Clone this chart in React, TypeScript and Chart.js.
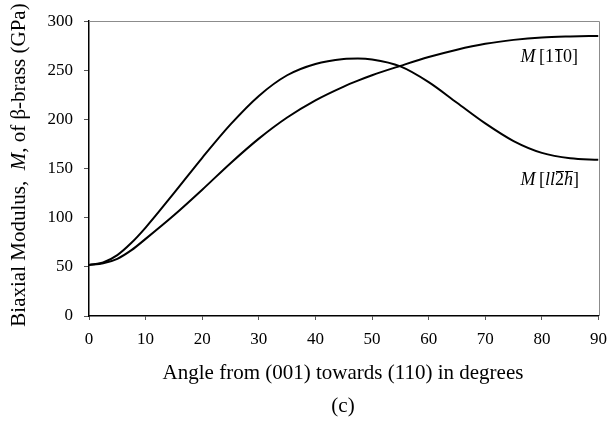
import React, { useEffect, useRef } from "react";
import { Chart, registerables } from "chart.js";

Chart.register(...registerables);

const angles = [0, 2.5, 5, 7.5, 10, 15, 20, 25, 30, 35, 40, 45, 47.5, 50, 55, 60, 65, 70, 75, 80, 85, 90];
const seriesPeak = [52, 54.5, 62, 74.5, 90, 125, 161, 195, 224, 245, 256.5, 261.5, 262, 261, 254, 238, 217, 196, 178, 166, 160.5, 159];
const seriesRise = [52, 53.6, 58.2, 67, 78.5, 102.5, 128.5, 155.5, 180.5, 202, 219.5, 233.5, 239.5, 245, 254.5, 263.5, 271, 277, 281, 283.5, 284.5, 285];
const xTicks = [0, 10, 20, 30, 40, 50, 60, 70, 80, 90];
const yTicks = [0, 50, 100, 150, 200, 250, 300];

const SERIF = "'Liberation Serif', 'Times New Roman', serif";

type Seg = { t: string; italic?: boolean; over?: boolean };

function drawSegs(
  ctx: CanvasRenderingContext2D,
  segs: Seg[],
  x: number,
  yMid: number,
  size: number,
  align: "left" | "center",
  overOffset = 0.74
) {
  const fontOf = (s: Seg) => `${s.italic ? "italic " : ""}${size}px ${SERIF}`;
  let total = 0;
  for (const s of segs) {
    ctx.font = fontOf(s);
    total += ctx.measureText(s.t).width;
  }
  let cx = align === "center" ? x - total / 2 : x;
  const yb = yMid + size * 0.33;
  ctx.textBaseline = "alphabetic";
  ctx.textAlign = "left";
  for (const s of segs) {
    ctx.font = fontOf(s);
    const w = ctx.measureText(s.t).width;
    ctx.fillText(s.t, cx, yb);
    if (s.over) {
      ctx.beginPath();
      ctx.lineWidth = 1;
      const yy = Math.round(yb - size * overOffset) + 0.5;
      ctx.moveTo(cx + 1, yy);
      ctx.lineTo(cx + w, yy);
      ctx.stroke();
    }
    cx += w;
  }
}

const label1: Seg[] = [{ t: "M", italic: true }, { t: "\u2009[1" }, { t: "1", over: true }, { t: "0]" }];
const label2: Seg[] = [{ t: "M", italic: true }, { t: "\u2009[" }, { t: "ll", italic: true }, { t: "2", over: true }, { t: "h", italic: true, over: true }, { t: "]" }];
const yTitle: Seg[] = [{ t: "Biaxial Modulus,  " }, { t: "M", italic: true }, { t: ", of β-brass (GPa)" }];

const textPlugin = {
  id: "textPlugin",
  afterDraw(chart: any) {
    const ctx = chart.ctx as CanvasRenderingContext2D;
    const { left, right, top, bottom } = chart.chartArea;
    const xs = chart.scales.x;
    const ys = chart.scales.y;
    ctx.save();
    ctx.strokeStyle = "#8c8c8c";
    ctx.lineWidth = 1;
    ctx.beginPath();
    ctx.moveTo(left, Math.round(top) + 0.5);
    ctx.lineTo(Math.round(right) + 0.5, Math.round(top) + 0.5);
    ctx.lineTo(Math.round(right) + 0.5, bottom);
    ctx.stroke();

    ctx.fillStyle = "#000";
    ctx.strokeStyle = "#000";
    drawSegs(ctx, label1, xs.getPixelForValue(76.2), ys.getPixelForValue(265), 18, "left", 0.72);
    drawSegs(ctx, label2, xs.getPixelForValue(76.2), ys.getPixelForValue(139), 18, "left", 0.78);

    drawSegs(ctx, [{ t: "Angle from (001) towards (110) in degrees" }], 343, 372, 21, "center");
    drawSegs(ctx, [{ t: "(c)" }], 343, 405, 21, "center");

    ctx.translate(18, 165);
    ctx.rotate(-Math.PI / 2);
    drawSegs(ctx, yTitle, 0, 0, 21, "center");
    ctx.restore();
  },
};

export default function App() {
  const ref = useRef<HTMLCanvasElement | null>(null);
  useEffect(() => {
    document.body.style.margin = "0";
    const ctx = ref.current!;
    const mk = (label: string, vals: number[]) => ({
      label,
      data: angles.map((a, i) => ({ x: a, y: vals[i] })),
      borderColor: "#000",
      borderWidth: 2,
      pointRadius: 0,
      cubicInterpolationMode: "monotone",
      fill: false,
    });
    const chart = new Chart(ctx, {
      type: "line",
      data: {
        datasets: [mk("M[1-10]", seriesPeak), mk("M[ll2h]", seriesRise)],
      },
      options: {
        responsive: false,
        animation: false,
        devicePixelRatio: 1,
        layout: { padding: { left: 0, top: 14, right: 17, bottom: 0 } },
        plugins: { legend: { display: false }, tooltip: { enabled: false } },
        scales: {
          x: {
            type: "linear",
            min: 0,
            max: 90,
            afterBuildTicks: (s: any) => {
              s.ticks = xTicks.map((v) => ({ value: v }));
            },
            afterFit: (s: any) => {
              s.height = 105;
            },
            ticks: { color: "#000", font: { family: SERIF, size: 17 }, padding: 9, maxRotation: 0 },
            grid: { drawOnChartArea: false, drawTicks: true, tickLength: 4, color: "#555" },
            border: { color: "#000", width: 1.5 },
          },
          y: {
            type: "linear",
            min: 0,
            max: 300,
            afterBuildTicks: (s: any) => {
              s.ticks = yTicks.map((v) => ({ value: v }));
            },
            afterFit: (s: any) => {
              s.width = 89;
            },
            ticks: { color: "#000", font: { family: SERIF, size: 17 }, padding: 11 },
            grid: { drawOnChartArea: false, drawTicks: true, tickLength: 5, color: "#555" },
            border: { color: "#000", width: 1.5 },
          },
        },
      },
      plugins: [textPlugin],
    } as any);
    return () => chart.destroy();
  }, []);
  return (
    <div style={{ position: "absolute", left: 0, top: 0, width: 616, height: 421, background: "#fff" }}>
      <canvas ref={ref} width={616} height={421} style={{ width: 616, height: 421, display: "block" }} />
    </div>
  );
}
